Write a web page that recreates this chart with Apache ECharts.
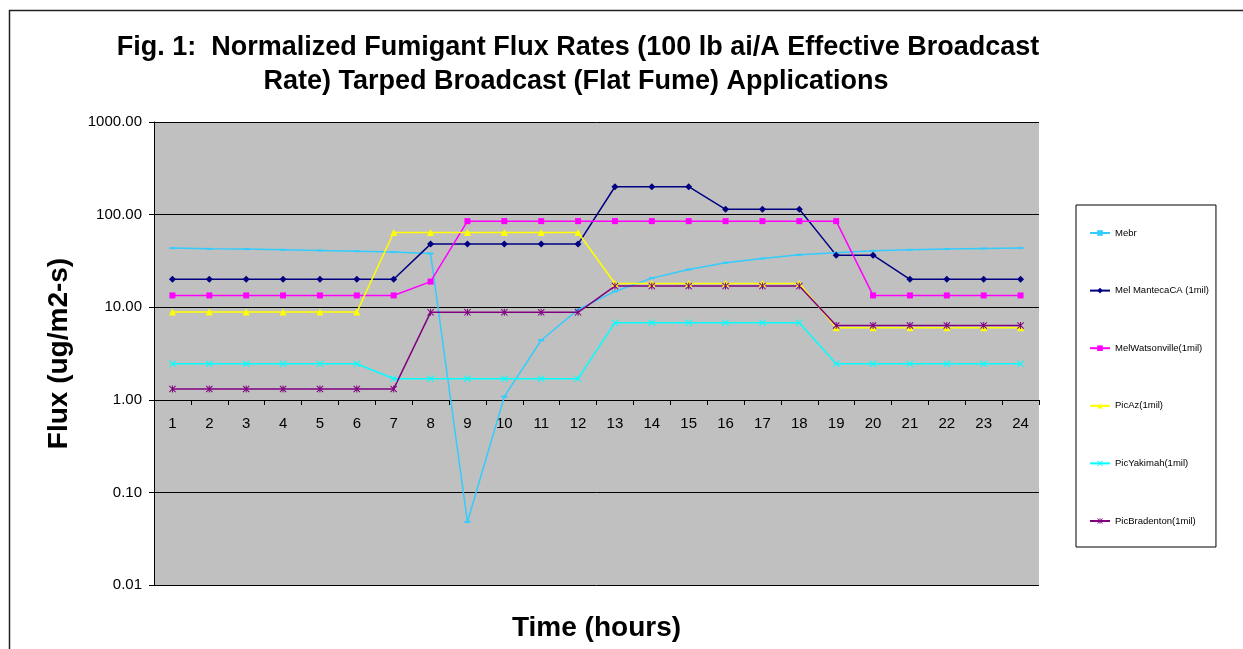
<!DOCTYPE html>
<html>
<head>
<meta charset="utf-8">
<title>Fig. 1 Normalized Fumigant Flux Rates</title>
<script src="https://cdn.jsdelivr.net/npm/echarts@6/dist/echarts.min.js"></script>
<style>
  html, body { margin: 0; padding: 0; background: #fff; }
  #chart { width: 1243px; height: 649px; }
</style>
</head>
<body>
<div id="chart"></div>
<script>
// hours on the x axis
const hours = ['1', '2', '3', '4', '5', '6', '7', '8', '9', '10', '11', '12',
  '13', '14', '15', '16', '17', '18', '19', '20', '21', '22', '23', '24']

// flux values (ug/m2-s)
const mebr = [43.5, 42.7, 42.4, 41.7, 41, 40.3, 39.4, 38, 0.048, 1.08, 4.4, 9.4,
  14.8, 20.6, 25.5, 30.2, 33.6, 36.8, 38.7, 40.6, 41.7, 42.4, 43, 43.5]
const melManteca = [20, 20, 20, 20, 20, 20, 20, 48, 48, 48, 48, 48,
  200, 200, 200, 114, 114, 114, 36.5, 36.5, 20, 20, 20, 20]
const melWatsonville = [13.4, 13.4, 13.4, 13.4, 13.4, 13.4, 13.4, 18.9, 85, 85, 85, 85,
  85, 85, 85, 85, 85, 85, 85, 13.4, 13.4, 13.4, 13.4, 13.4]
const picAz = [8.85, 8.85, 8.85, 8.85, 8.85, 8.85, 64, 64, 64, 64, 64, 64,
  18, 18, 18, 18, 18, 18, 6.0, 6.0, 6.0, 6.0, 6.0, 6.0]
const picYakimah = [2.45, 2.45, 2.45, 2.45, 2.45, 2.45, 1.69, 1.69, 1.69, 1.69, 1.69, 1.69,
  6.8, 6.8, 6.8, 6.8, 6.8, 6.8, 2.45, 2.45, 2.45, 2.45, 2.45, 2.45]
const picBradenton = [1.31, 1.31, 1.31, 1.31, 1.31, 1.31, 1.31, 8.8, 8.8, 8.8, 8.8, 8.8,
  16.9, 16.9, 16.9, 16.9, 16.9, 16.9, 6.35, 6.35, 6.35, 6.35, 6.35, 6.35]

const FONT = 'Liberation Sans, Arial, sans-serif'

// x and asterisk markers as filled shapes
const xMark = 'path://M0,1L1,0L5,4L9,0L10,1L6,5L10,9L9,10L5,6L1,10L0,9L4,5Z'
const starMark = xMark + 'M4.3,0L5.7,0L5.7,10L4.3,10Z'

function line(name, data, color, symbol, size) {
  return {
    name,
    type: 'line',
    data,
    symbol,
    symbolSize: size,
    showSymbol: true,
    lineStyle: { color, width: 1.5 },
    itemStyle: { color },
    emphasis: { disabled: true },
  }
}

const chart = echarts.init(document.getElementById('chart'))
chart.setOption({
  animation: false,
  backgroundColor: '#fff',
  textStyle: { fontFamily: FONT },
  graphic: [
    // outer chart frame
    {
      type: 'rect',
      shape: { x: 9.5, y: 10.5, width: 1300, height: 700 },
      style: { fill: 'none', stroke: '#222', lineWidth: 1.5 },
      silent: true,
    },
    {
      type: 'text',
      x: 578,
      y: 48,
      style: {
        text: 'Fig. 1:  Normalized Fumigant Flux Rates (100 lb ai/A Effective Broadcast',
        font: 'bold 27px ' + FONT,
        fill: '#000',
        textAlign: 'center',
        textVerticalAlign: 'middle',
      },
    },
    {
      type: 'text',
      x: 576,
      y: 82,
      style: {
        text: 'Rate) Tarped Broadcast (Flat Fume) Applications',
        font: 'bold 27px ' + FONT,
        fill: '#000',
        textAlign: 'center',
        textVerticalAlign: 'middle',
      },
    },
  ],
  grid: {
    left: 154,
    right: 204,
    top: 122,
    bottom: 64,
    show: true,
    backgroundColor: '#C0C0C0',
    borderWidth: 0,
    outerBoundsMode: 'none',
  },
  legend: {
    orient: 'vertical',
    left: 1076,
    top: 205,
    itemWidth: 20,
    itemHeight: 7,
    itemGap: 47.6,
    padding: [23, 7, 21, 13],
    borderColor: '#000',
    borderWidth: 1,
    backgroundColor: '#fff',
    textStyle: { fontSize: 9.5, color: '#000', fontFamily: FONT },
    selectedMode: false,
  },
  xAxis: {
    type: 'category',
    data: hours,
    boundaryGap: true,
    // sits on the 1.00 line
    offset: -185,
    axisLine: { lineStyle: { color: '#000', width: 1 } },
    axisTick: { show: true, length: 5, lineStyle: { color: '#000' } },
    axisLabel: { color: '#000', fontSize: 15, margin: 16, fontFamily: FONT },
    splitLine: { show: false },
    name: 'Time (hours)',
    nameLocation: 'middle',
    nameGap: 214,
    nameTextStyle: { fontSize: 28, fontWeight: 'bold', color: '#000', fontFamily: FONT },
  },
  yAxis: {
    type: 'log',
    logBase: 10,
    min: 0.01,
    max: 1000,
    axisLine: { show: true, lineStyle: { color: '#000', width: 1 } },
    axisTick: { show: true, length: 5, lineStyle: { color: '#000' } },
    minorTick: { show: false },
    axisLabel: {
      color: '#000',
      fontSize: 15,
      margin: 12,
      fontFamily: FONT,
      formatter: v => Number(v).toFixed(2),
    },
    splitLine: { show: true, lineStyle: { color: '#000', width: 1 } },
    name: 'Flux (ug/m2-s)',
    nameLocation: 'middle',
    nameGap: 81,
    nameTextStyle: { fontSize: 28, fontWeight: 'bold', color: '#000', fontFamily: FONT },
  },
  series: [
    line('Mebr', mebr, '#33CCFF', 'rect', [6, 2]),
    line('Mel MantecaCA (1mil)', melManteca, '#000080', 'diamond', 7),
    line('MelWatsonville(1mil)', melWatsonville, '#FF00FF', 'rect', 6),
    line('PicAz(1mil)', picAz, '#FFFF00', 'triangle', 7),
    line('PicYakimah(1mil)', picYakimah, '#00FFFF', xMark, 7),
    line('PicBradenton(1mil)', picBradenton, '#800080', starMark, 7),
  ],
})
</script>
</body>
</html>
